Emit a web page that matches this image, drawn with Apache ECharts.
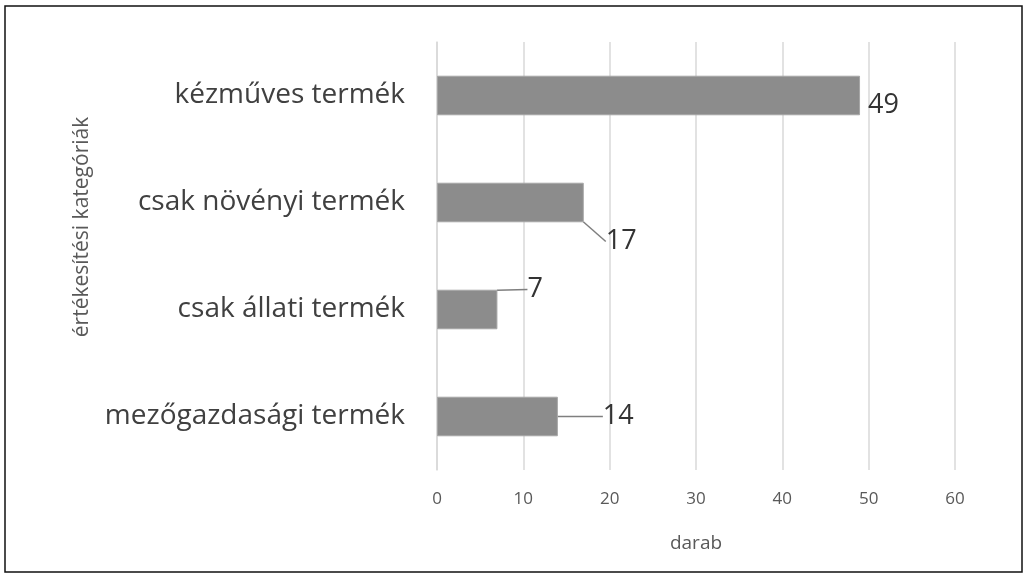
<!DOCTYPE html>
<html>
<head>
<meta charset="utf-8">
<script src="https://cdn.jsdelivr.net/npm/echarts@6/dist/echarts.min.js"></script>
<style>
  html, body { margin: 0; padding: 0; background: #fff; }
  #container { width: 1027px; height: 577px; }
</style>
</head>
<body>
<div id="container"></div>
<script>
var categories = ['mezőgazdasági termék', 'csak állati termék', 'csak növényi termék', 'kézműves termék'];
var values = [14, 7, 17, 49];
var xTicks = [0, 10, 20, 30, 40, 50, 60];

// how far each value label is pushed away from the bar end (dx, dy)
var labelShift = [[37, 0], [22, -20], [14, 39], [0, 10]];
var showLeader = [true, true, true, false];

var dom = document.getElementById("container");
var myChart = echarts.init(dom);
var font = '"Open Sans", "DejaVu Sans", sans-serif';

var barData = values.map(function (v, i) {
    return { value: v, labelLine: { show: showLeader[i] } };
});

var option = {
    animation: false,
    textStyle: { fontFamily: font },
    graphic: [{
        type: 'rect',
        shape: { x: 5, y: 6, width: 1017, height: 566 },
        style: { fill: 'none', stroke: '#111', lineWidth: 1.5 },
        silent: true
    }],
    grid: { left: 437, right: 72, top: 42, bottom: 107 },
    xAxis: {
        type: 'value',
        min: xTicks[0],
        max: xTicks[xTicks.length - 1],
        interval: 10,
        name: 'darab',
        nameLocation: 'middle',
        nameGap: 64,
        nameTextStyle: { color: '#595959', fontSize: 19, fontFamily: font },
        axisLine: { show: false },
        axisTick: { show: false },
        axisLabel: { color: '#595959', fontSize: 17, margin: 21, fontFamily: font },
        splitLine: { lineStyle: { color: '#d9d9d9', width: 1.5 } }
    },
    yAxis: {
        type: 'category',
        data: categories,
        name: 'értékesítési kategóriák',
        nameLocation: 'middle',
        nameGap: 344,
        nameRotate: 90,
        nameTextStyle: { color: '#595959', fontSize: 21, fontFamily: font, padding: [0, 0, 0, 58] },
        axisLine: { lineStyle: { color: '#d9d9d9', width: 1.5 } },
        axisTick: { length: 9, lineStyle: { color: '#d9d9d9', width: 1.5 } },
        axisLabel: { color: '#404040', fontSize: 28, margin: 32, fontFamily: font }
    },
    series: [{
        type: 'bar',
        data: barData,
        barWidth: '37%',
        itemStyle: { color: '#8c8c8c', borderColor: '#a6a6a6', borderWidth: 1 },
        label: {
            show: true,
            position: 'right',
            distance: 8,
            color: '#333',
            fontSize: 27,
            fontFamily: font
        },
        labelLine: { show: true, lineStyle: { color: '#7f7f7f', width: 1.5 } },
        labelLayout: function (params) {
            var s = labelShift[params.dataIndex];
            return { dx: s[0], dy: s[1] };
        }
    }]
};

myChart.setOption(option);
</script>
</body>
</html>
